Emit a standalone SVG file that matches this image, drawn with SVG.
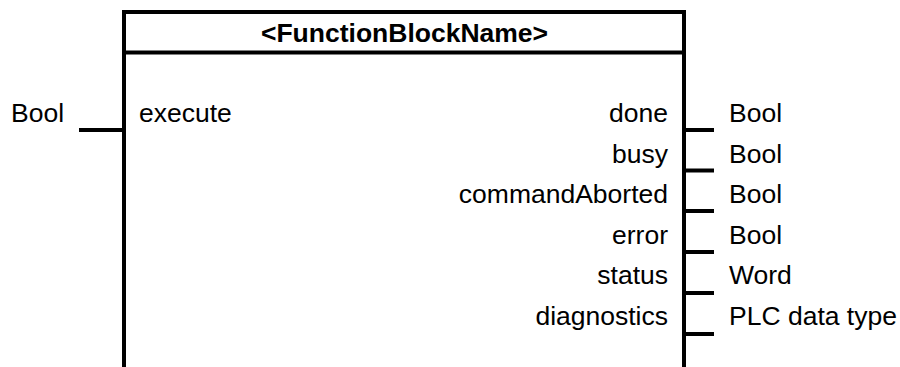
<svg xmlns="http://www.w3.org/2000/svg" width="900" height="367" viewBox="0 0 900 367">
<style>
text{font-family:"Liberation Sans",Arial,sans-serif;font-size:26.5px;fill:#000}
.t{font-weight:bold;text-anchor:middle}
.r{text-anchor:end}
.ln{stroke:#000;stroke-width:4;fill:none}
</style>
<rect width="900" height="367" fill="#fff"/>
<g id="block">
<path class="ln" d="M124,367 V12 H684 V367"/>
<line class="ln" x1="122" y1="52.5" x2="686" y2="52.5"/>
<text class="t" x="404.5" y="42">&lt;FunctionBlockName&gt;</text>
<text x="139" y="122">execute</text>
<text class="r" x="668" y="122">done</text>
<text class="r" x="668" y="162.5">busy</text>
<text class="r" x="668" y="203">commandAborted</text>
<text class="r" x="668" y="243.5">error</text>
<text class="r" x="668" y="284">status</text>
<text class="r" x="668" y="324.5">diagnostics</text>
</g>
<g id="connectors">
<line class="ln" x1="79" y1="130" x2="124" y2="130"/>
<line class="ln" x1="684" y1="130" x2="714" y2="130"/>
<line class="ln" x1="684" y1="170.5" x2="714" y2="170.5"/>
<line class="ln" x1="684" y1="211" x2="714" y2="211"/>
<line class="ln" x1="684" y1="252" x2="714" y2="252"/>
<line class="ln" x1="684" y1="293" x2="714" y2="293"/>
<line class="ln" x1="684" y1="334" x2="714" y2="334"/>
</g>
<g id="types">
<text x="11" y="122">Bool</text>
<text x="729" y="122">Bool</text>
<text x="729" y="162.5">Bool</text>
<text x="729" y="203">Bool</text>
<text x="729" y="243.5">Bool</text>
<text x="729" y="284">Word</text>
<text x="729" y="324.5">PLC data type</text>
</g>
</svg>
